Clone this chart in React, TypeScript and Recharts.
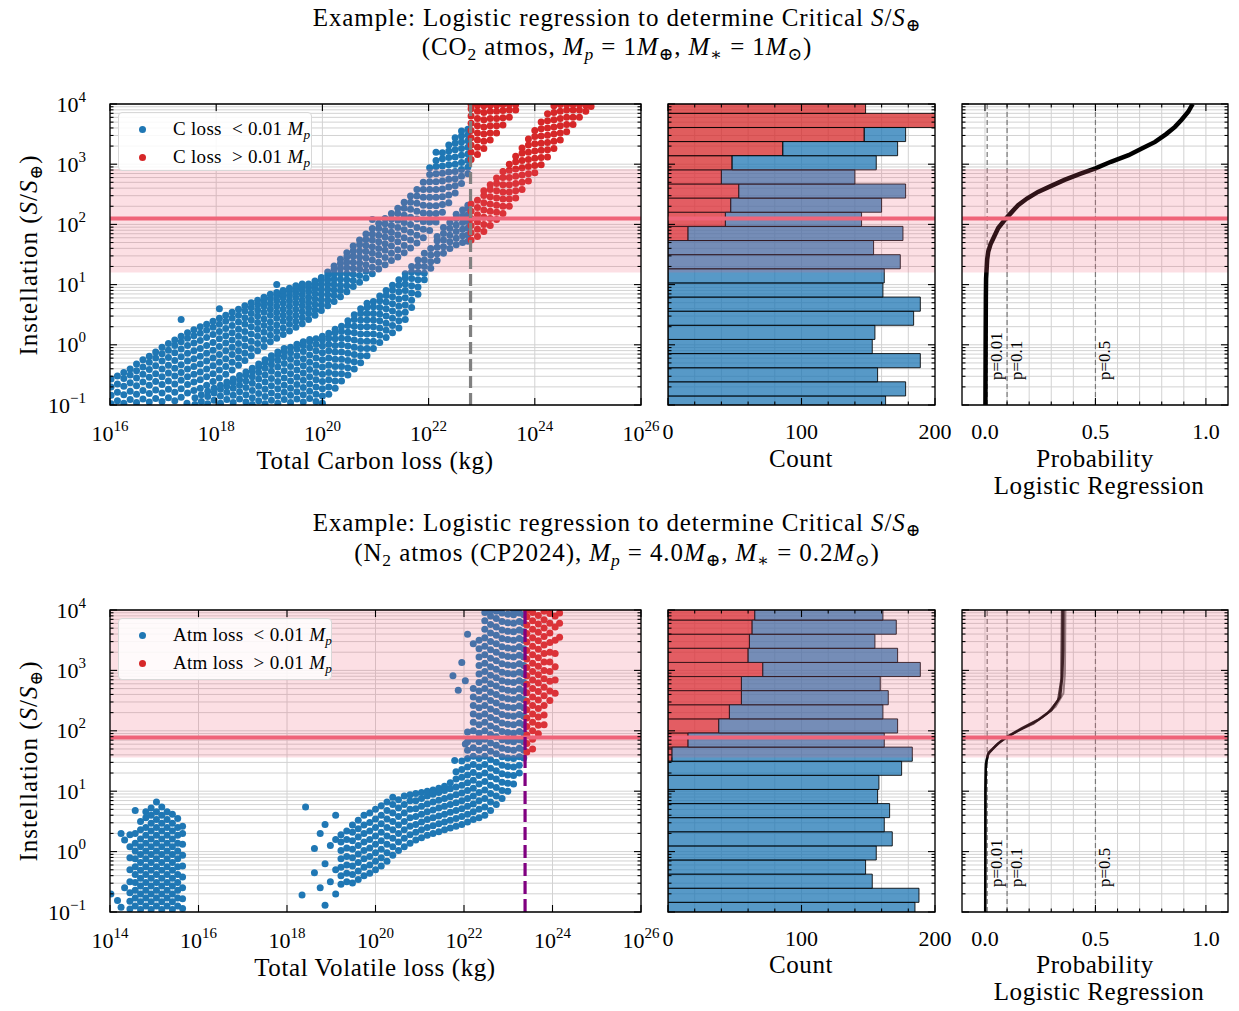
import React from 'react';
import { ScatterChart, Scatter, XAxis, YAxis, CartesianGrid, ReferenceArea, ReferenceLine } from 'recharts';

const FONT = '"Liberation Serif", "DejaVu Serif", serif';
const BLUE = '#1f77b4';
const RED = '#d62728';
const BAND = '#ef5f78';
const CRIT = '#ef6479';
const GRID = '#d2d2d2';

// y axis = log10 instellation
const logDecades = [-1, 0, 1, 2, 3, 4];
const minorSteps = [2, 3, 4, 5, 6, 7, 8, 9];
const yTicks = logDecades.flatMap((d, i) =>
  i === logDecades.length - 1 ? [d] : [d, ...minorSteps.map((m) => d + Math.log10(m))]
);

const topLossTicks = [16, 18, 20, 22, 24, 26];
const botLossTicks = [14, 16, 18, 20, 22, 24, 26];
const countTicks = [0, 20, 40, 60, 80, 100, 120, 140, 160, 180, 200];
const countMajor = [0, 100, 200];
const probTicks = [0, 0.1, 0.2, 0.3, 0.4, 0.5, 0.6, 0.7, 0.8, 0.9, 1.0];
const probMajor = [0, 0.5, 1.0];
const pLines = [0.01, 0.1, 0.5];

// scatter: [log10 loss, [log10 S ...]]
type Slice = [number, number[]];

const topBlueA: Slice[] = [
  [16.02, [-0.98, -0.84, -0.7, -0.57]],
  [16.14, [-0.93, -0.79, -0.65, -0.52]],
  [16.26, [-0.97, -0.83, -0.69, -0.56, -0.46]],
  [16.38, [-0.91, -0.77, -0.63, -0.5, -0.4]],
  [16.5, [-0.96, -0.82, -0.68, -0.55, -0.43, -0.32]],
  [16.62, [-0.9, -0.76, -0.62, -0.49, -0.37, -0.25]],
  [16.74, [-0.95, -0.81, -0.67, -0.54, -0.41, -0.29, -0.19]],
  [16.86, [-0.89, -0.75, -0.61, -0.48, -0.35, -0.22, -0.12]],
  [16.98, [-0.94, -0.8, -0.66, -0.53, -0.4, -0.27, -0.15, -0.04]],
  [17.1, [-0.88, -0.74, -0.6, -0.47, -0.34, -0.21, -0.09, 0.02]],
  [17.22, [-0.93, -0.79, -0.65, -0.52, -0.39, -0.26, -0.13, -0.01, 0.08]],
  [17.34, [-0.87, -0.73, -0.59, -0.46, -0.33, -0.2, -0.07, 0.05, 0.14, 0.42]],
  [17.46, [-0.8, -0.66, -0.53, -0.4, -0.27, -0.14, -0.01, 0.11, 0.2]],
  [17.58, [-0.76, -0.62, -0.49, -0.36, -0.23, -0.1, 0.03, 0.15, 0.25]],
  [17.7, [-0.72, -0.58, -0.45, -0.32, -0.19, -0.06, 0.07, 0.19, 0.3]],
  [17.82, [-0.67, -0.53, -0.4, -0.27, -0.14, -0.01, 0.12, 0.24, 0.34]],
  [17.94, [-0.61, -0.48, -0.35, -0.22, -0.09, 0.04, 0.17, 0.29, 0.39]],
  [18.06, [-0.55, -0.42, -0.29, -0.16, -0.03, 0.1, 0.22, 0.34, 0.44, 0.6]],
  [18.18, [-0.49, -0.36, -0.23, -0.1, 0.03, 0.15, 0.27, 0.39, 0.49]],
  [18.3, [-0.42, -0.29, -0.16, -0.04, 0.08, 0.2, 0.32, 0.44, 0.54]],
  [18.42, [-0.34, -0.22, -0.1, 0.02, 0.14, 0.26, 0.38, 0.49, 0.59]],
  [18.54, [-0.26, -0.14, -0.02, 0.1, 0.22, 0.34, 0.45, 0.56, 0.65]],
  [18.66, [-0.18, -0.06, 0.06, 0.18, 0.3, 0.41, 0.52, 0.62, 0.7]],
  [18.78, [-0.1, 0.02, 0.14, 0.26, 0.37, 0.48, 0.58, 0.67, 0.74]],
  [18.9, [-0.03, 0.09, 0.21, 0.32, 0.43, 0.54, 0.64, 0.72, 0.79]],
  [19.02, [0.05, 0.16, 0.27, 0.38, 0.49, 0.59, 0.68, 0.77, 0.84]],
  [19.14, [0.11, 0.22, 0.33, 0.44, 0.54, 0.64, 0.73, 0.81, 0.87, 1.0]],
  [19.26, [0.17, 0.28, 0.39, 0.49, 0.59, 0.69, 0.78, 0.85, 0.9]],
  [19.38, [0.23, 0.34, 0.44, 0.54, 0.64, 0.73, 0.82, 0.89, 0.94]],
  [19.5, [0.29, 0.39, 0.49, 0.59, 0.69, 0.78, 0.86, 0.93, 0.98]],
  [19.62, [0.35, 0.45, 0.55, 0.65, 0.74, 0.83, 0.91, 0.97, 1.01]],
  [19.74, [0.42, 0.52, 0.61, 0.7, 0.79, 0.88, 0.95, 1.01]],
  [19.86, [0.49, 0.58, 0.67, 0.76, 0.85, 0.93, 1.0, 1.06]],
  [19.98, [0.57, 0.66, 0.75, 0.84, 0.92, 1.0, 1.07, 1.12]],
  [20.1, [0.65, 0.74, 0.83, 0.92, 1.0, 1.08, 1.15, 1.21]],
  [20.22, [0.72, 0.82, 0.91, 1.0, 1.09, 1.17, 1.25, 1.31]],
  [20.34, [0.8, 0.9, 0.99, 1.09, 1.18, 1.27, 1.35, 1.42]],
  [20.46, [0.88, 0.98, 1.08, 1.18, 1.28, 1.37, 1.46, 1.53]],
  [20.58, [0.97, 1.07, 1.17, 1.27, 1.37, 1.47, 1.56, 1.64]],
  [20.7, [1.04, 1.15, 1.26, 1.36, 1.46, 1.56, 1.66, 1.74]],
  [20.82, [1.11, 1.22, 1.33, 1.44, 1.55, 1.65, 1.75, 1.84]],
  [20.94, [1.18, 1.29, 1.41, 1.52, 1.63, 1.74, 1.84, 1.93, 2.08]],
  [21.06, [1.26, 1.37, 1.49, 1.6, 1.71, 1.82, 1.93, 2.02]],
  [21.18, [1.33, 1.45, 1.57, 1.68, 1.79, 1.9, 2.01, 2.1]],
  [21.3, [1.4, 1.52, 1.64, 1.76, 1.87, 1.98, 2.09, 2.18]],
  [21.42, [1.46, 1.58, 1.71, 1.83, 1.95, 2.07, 2.18, 2.27]],
  [21.54, [1.53, 1.65, 1.78, 1.91, 2.03, 2.15, 2.27, 2.37]],
  [21.66, [1.61, 1.74, 1.87, 2.0, 2.12, 2.25, 2.37, 2.47]],
  [21.78, [1.69, 1.82, 1.95, 2.09, 2.22, 2.35, 2.47, 2.58]],
  [21.9, [1.78, 1.92, 2.05, 2.19, 2.32, 2.45, 2.58, 2.7]],
  [22.02, [1.9, 2.04, 2.18, 2.31, 2.45, 2.58, 2.71, 2.83, 2.94]],
  [22.14, [2.04, 2.18, 2.31, 2.45, 2.58, 2.71, 2.84, 2.96, 3.06, 3.2]],
  [22.26, [2.2, 2.33, 2.46, 2.59, 2.72, 2.85, 2.97, 3.09, 3.19]],
  [22.38, [2.36, 2.49, 2.62, 2.75, 2.87, 2.99, 3.11, 3.22, 3.32]],
  [22.5, [2.52, 2.64, 2.76, 2.88, 3.0, 3.12, 3.24, 3.35, 3.44]],
  [22.62, [2.68, 2.8, 2.91, 3.03, 3.15, 3.26, 3.37, 3.47, 3.55]],
  [22.74, [2.84, 2.95, 3.06, 3.17, 3.28, 3.39, 3.49, 3.58]],
];

const topBlueB: Slice[] = [
  [17.45, [-0.97]],
  [17.6, [-0.99, -0.88]],
  [17.72, [-0.94, -0.83]],
  [17.84, [-0.98, -0.86, -0.77]],
  [17.96, [-0.92, -0.8, -0.72]],
  [18.08, [-0.97, -0.85, -0.74, -0.67]],
  [18.2, [-0.91, -0.79, -0.69, -0.62]],
  [18.32, [-0.96, -0.84, -0.72, -0.63, -0.57]],
  [18.44, [-0.9, -0.78, -0.67, -0.58, -0.51]],
  [18.56, [-0.95, -0.83, -0.71, -0.6, -0.5, -0.45]],
  [18.68, [-0.99, -0.88, -0.76, -0.64, -0.53, -0.44, -0.39]],
  [18.8, [-0.93, -0.81, -0.69, -0.57, -0.46, -0.37, -0.32]],
  [18.92, [-0.98, -0.86, -0.74, -0.62, -0.5, -0.39, -0.3, -0.25]],
  [19.04, [-0.92, -0.8, -0.68, -0.56, -0.44, -0.33, -0.24, -0.18]],
  [19.16, [-0.97, -0.85, -0.73, -0.61, -0.49, -0.37, -0.26, -0.17, -0.12]],
  [19.28, [-0.91, -0.79, -0.67, -0.55, -0.43, -0.31, -0.2, -0.11, -0.06]],
  [19.4, [-0.96, -0.84, -0.72, -0.6, -0.48, -0.36, -0.24, -0.13, -0.04]],
  [19.52, [-0.9, -0.78, -0.66, -0.54, -0.42, -0.3, -0.18, -0.07, 0.01]],
  [19.64, [-0.95, -0.83, -0.71, -0.59, -0.47, -0.35, -0.23, -0.11, -0.01, 0.05]],
  [19.76, [-0.89, -0.77, -0.65, -0.53, -0.41, -0.29, -0.17, -0.05, 0.05, 0.09]],
  [19.88, [-0.94, -0.82, -0.7, -0.58, -0.46, -0.34, -0.22, -0.1, 0.01, 0.1]],
  [20.0, [-0.97, -0.85, -0.73, -0.61, -0.49, -0.37, -0.25, -0.13, -0.02, 0.08, 0.14]],
  [20.12, [-0.82, -0.7, -0.58, -0.46, -0.34, -0.22, -0.1, 0.01, 0.11, 0.19]],
  [20.24, [-0.72, -0.6, -0.48, -0.36, -0.24, -0.12, -0.01, 0.1, 0.2, 0.26]],
  [20.36, [-0.6, -0.48, -0.36, -0.24, -0.12, 0.0, 0.11, 0.22, 0.31]],
  [20.48, [-0.5, -0.38, -0.26, -0.14, -0.02, 0.1, 0.21, 0.32, 0.4]],
  [20.6, [-0.4, -0.28, -0.16, -0.04, 0.08, 0.2, 0.31, 0.42, 0.5]],
  [20.72, [-0.3, -0.18, -0.06, 0.06, 0.18, 0.3, 0.41, 0.52, 0.6]],
  [20.84, [-0.18, -0.06, 0.06, 0.18, 0.3, 0.41, 0.52, 0.62, 0.69]],
  [20.96, [-0.06, 0.06, 0.18, 0.3, 0.41, 0.52, 0.63, 0.72]],
  [21.08, [0.04, 0.16, 0.28, 0.4, 0.51, 0.62, 0.73, 0.81]],
  [21.2, [0.12, 0.24, 0.36, 0.48, 0.6, 0.71, 0.82, 0.9]],
  [21.32, [0.2, 0.32, 0.44, 0.56, 0.68, 0.8, 0.91, 0.99]],
  [21.44, [0.28, 0.4, 0.52, 0.64, 0.76, 0.88, 0.99, 1.08]],
  [21.56, [0.42, 0.54, 0.66, 0.78, 0.9, 1.01, 1.11, 1.18]],
  [21.68, [0.62, 0.74, 0.86, 0.98, 1.1, 1.21, 1.3]],
  [21.8, [0.84, 0.96, 1.08, 1.2, 1.31, 1.41]],
  [21.92, [1.08, 1.19, 1.3, 1.41, 1.52]],
  [22.04, [1.27, 1.38, 1.49, 1.6]],
  [22.16, [1.4, 1.51, 1.62, 1.73, 1.8]],
  [22.28, [1.52, 1.63, 1.74, 1.85, 1.95]],
  [22.4, [1.6, 1.71, 1.82, 1.93, 2.03]],
  [22.52, [1.66, 1.77, 1.88, 1.99, 2.1, 2.17]],
  [22.64, [1.7, 1.81, 1.92, 2.03, 2.14, 2.24]],
  [22.74, [1.72, 1.83, 1.94, 2.05, 2.16, 2.27, 2.32]],
];

const topRedA: Slice[] = [
  [22.8, [3.08, 3.2, 3.32, 3.44, 3.56, 3.68, 3.8, 3.92, 3.99]],
  [22.92, [3.16, 3.28, 3.4, 3.52, 3.64, 3.76, 3.88, 3.98]],
  [23.04, [3.26, 3.38, 3.5, 3.62, 3.74, 3.86, 3.97]],
  [23.16, [3.4, 3.52, 3.64, 3.76, 3.88, 3.98]],
  [23.28, [3.52, 3.64, 3.76, 3.88, 3.98]],
  [23.4, [3.65, 3.77, 3.89, 3.99]],
  [23.52, [3.78, 3.9, 3.99]],
  [23.64, [3.9, 3.99]],
];

const topRedB: Slice[] = [
  [22.8, [1.74, 1.86, 1.98, 2.1, 2.22, 2.34]],
  [22.92, [1.8, 1.92, 2.04, 2.16, 2.28, 2.4]],
  [23.04, [1.88, 2.0, 2.12, 2.24, 2.36, 2.48, 2.56]],
  [23.16, [1.98, 2.1, 2.22, 2.34, 2.46, 2.58, 2.66]],
  [23.28, [2.08, 2.2, 2.32, 2.44, 2.56, 2.68, 2.77]],
  [23.4, [2.18, 2.3, 2.42, 2.54, 2.66, 2.78, 2.88]],
  [23.52, [2.3, 2.42, 2.54, 2.66, 2.78, 2.9, 3.0]],
  [23.64, [2.44, 2.56, 2.68, 2.8, 2.92, 3.04, 3.13]],
  [23.76, [2.58, 2.7, 2.82, 2.94, 3.06, 3.18, 3.27]],
  [23.88, [2.72, 2.84, 2.96, 3.08, 3.2, 3.32, 3.42]],
  [24.0, [2.86, 2.98, 3.1, 3.22, 3.34, 3.46, 3.56]],
  [24.12, [2.99, 3.11, 3.23, 3.35, 3.47, 3.59, 3.7]],
  [24.24, [3.12, 3.24, 3.36, 3.48, 3.6, 3.72, 3.84]],
  [24.36, [3.26, 3.38, 3.5, 3.62, 3.74, 3.86, 3.97]],
  [24.48, [3.4, 3.52, 3.64, 3.76, 3.88, 3.99]],
  [24.6, [3.54, 3.66, 3.78, 3.9, 3.99]],
  [24.72, [3.66, 3.78, 3.9, 3.99]],
  [24.84, [3.78, 3.9, 3.99]],
  [24.96, [3.88, 3.98]],
  [25.06, [3.96]],
];

const botBlueCluster: Slice[] = [
  [14.02, [-0.7]],
  [14.17, [-0.81]],
  [14.25, [-0.92, 0.3]],
  [14.33, [-0.6, 0.19]],
  [14.45, [-0.95, -0.82, -0.68, -0.5, -0.3, -0.1, 0.08, 0.28]],
  [14.57, [-0.9, -0.77, -0.64, -0.51, -0.38, -0.25, -0.12, 0.01, 0.14, 0.3, 0.68]],
  [14.69, [-0.96, -0.83, -0.7, -0.57, -0.44, -0.31, -0.18, -0.05, 0.08, 0.21, 0.36, 0.5]],
  [14.81, [-0.9, -0.77, -0.64, -0.51, -0.38, -0.25, -0.12, 0.01, 0.14, 0.27, 0.4, 0.56, 0.66]],
  [14.93, [-0.96, -0.83, -0.7, -0.57, -0.44, -0.31, -0.18, -0.05, 0.08, 0.21, 0.34, 0.47, 0.6, 0.72]],
  [15.05, [-0.9, -0.77, -0.64, -0.51, -0.38, -0.25, -0.12, 0.01, 0.14, 0.27, 0.4, 0.53, 0.66, 0.82]],
  [15.17, [-0.96, -0.83, -0.7, -0.57, -0.44, -0.31, -0.18, -0.05, 0.08, 0.21, 0.34, 0.47, 0.6, 0.74]],
  [15.29, [-0.9, -0.77, -0.64, -0.51, -0.38, -0.25, -0.12, 0.01, 0.14, 0.27, 0.4, 0.53, 0.66]],
  [15.41, [-0.96, -0.83, -0.7, -0.57, -0.44, -0.31, -0.18, -0.05, 0.08, 0.21, 0.34, 0.47, 0.62]],
  [15.53, [-0.9, -0.77, -0.64, -0.51, -0.38, -0.25, -0.12, 0.01, 0.14, 0.27, 0.4, 0.55]],
  [15.64, [-0.94, -0.78, -0.6, -0.42, -0.24, -0.06, 0.12, 0.3, 0.42]],
];

const botBlueBand: Slice[] = [
  [18.34, [-0.72]],
  [18.42, [0.74]],
  [18.62, [-0.35, 0.05]],
  [18.75, [-0.6, 0.3]],
  [18.86, [-0.89, -0.2, 0.45]],
  [18.98, [-0.5, 0.1]],
  [19.1, [-0.7, -0.3, 0.2, 0.6]],
  [19.22, [-0.54, -0.4, -0.26, -0.12, 0.02, 0.16, 0.28]],
  [19.35, [-0.5, -0.36, -0.22, -0.08, 0.06, 0.2, 0.34]],
  [19.48, [-0.52, -0.38, -0.24, -0.1, 0.04, 0.18, 0.32, 0.44]],
  [19.61, [-0.46, -0.32, -0.18, -0.04, 0.1, 0.24, 0.38, 0.52]],
  [19.74, [-0.4, -0.26, -0.12, 0.02, 0.16, 0.3, 0.44, 0.6]],
  [19.87, [-0.36, -0.22, -0.08, 0.06, 0.2, 0.34, 0.48, 0.64]],
  [20.0, [-0.3, -0.16, -0.02, 0.12, 0.26, 0.4, 0.54, 0.7]],
  [20.13, [-0.24, -0.1, 0.04, 0.18, 0.32, 0.46, 0.6, 0.76]],
  [20.26, [-0.16, -0.02, 0.12, 0.26, 0.4, 0.54, 0.68, 0.82]],
  [20.39, [-0.06, 0.08, 0.22, 0.36, 0.5, 0.64, 0.78, 0.9]],
  [20.52, [0.02, 0.16, 0.3, 0.44, 0.58, 0.72, 0.86]],
  [20.65, [0.08, 0.22, 0.36, 0.5, 0.64, 0.78, 0.92]],
  [20.78, [0.14, 0.28, 0.42, 0.56, 0.7, 0.84, 0.94]],
  [20.91, [0.19, 0.32, 0.45, 0.58, 0.71, 0.84, 0.96]],
  [21.04, [0.23, 0.36, 0.49, 0.62, 0.75, 0.88, 0.98]],
  [21.17, [0.27, 0.4, 0.53, 0.66, 0.79, 0.92, 1.0]],
  [21.3, [0.3, 0.43, 0.56, 0.69, 0.82, 0.95, 1.02]],
  [21.43, [0.33, 0.46, 0.59, 0.72, 0.85, 0.98, 1.05]],
  [21.56, [0.36, 0.49, 0.62, 0.75, 0.88, 1.01, 1.08]],
  [21.69, [0.39, 0.52, 0.65, 0.78, 0.91, 1.04, 1.14]],
  [21.75, [2.91]],
  [21.79, [1.51]],
  [21.82, [0.42, 0.55, 0.68, 0.81, 0.94, 1.07, 1.2, 1.32]],
  [21.87, [2.67]],
  [21.95, [0.45, 0.58, 0.71, 0.84, 0.97, 1.1, 1.23, 1.36, 1.5, 3.13]],
  [22.03, [1.78, 2.83]],
  [22.08, [0.49, 0.62, 0.75, 0.88, 1.01, 1.14, 1.27, 1.4, 1.54, 1.68, 1.82, 1.98, 3.6]],
  [22.21, [0.53, 0.66, 0.79, 0.92, 1.05, 1.18, 1.31, 1.44, 1.58, 1.72, 1.86, 2.0, 2.14, 2.28, 2.42, 2.56, 2.7, 3.44]],
  [22.34, [0.56, 0.7, 0.84, 0.98, 1.12, 1.26, 1.4, 1.54, 1.68, 1.82, 1.96, 2.1, 2.24, 2.38, 2.52, 2.66, 2.8, 2.94, 3.08, 3.22, 3.36, 3.5]],
  [22.47, [0.6, 0.74, 0.88, 1.02, 1.16, 1.3, 1.44, 1.58, 1.72, 1.86, 2.0, 2.14, 2.28, 2.42, 2.56, 2.7, 2.84, 2.98, 3.12, 3.26, 3.4, 3.54, 3.68, 3.82, 3.96]],
  [22.6, [0.68, 0.82, 0.96, 1.1, 1.24, 1.38, 1.52, 1.66, 1.8, 1.94, 2.08, 2.22, 2.36, 2.5, 2.64, 2.78, 2.92, 3.06, 3.2, 3.34, 3.48, 3.62, 3.76, 3.9, 3.99]],
  [22.73, [0.78, 0.92, 1.06, 1.2, 1.34, 1.48, 1.62, 1.76, 1.9, 2.04, 2.18, 2.32, 2.46, 2.6, 2.74, 2.88, 3.02, 3.16, 3.3, 3.44, 3.58, 3.72, 3.86, 3.98]],
  [22.86, [0.88, 1.01, 1.15, 1.29, 1.43, 1.57, 1.71, 1.85, 1.99, 2.13, 2.27, 2.41, 2.55, 2.69, 2.83, 2.97, 3.11, 3.25, 3.39, 3.53, 3.67, 3.81, 3.95]],
  [22.99, [1.0, 1.13, 1.27, 1.41, 1.55, 1.69, 1.83, 1.97, 2.11, 2.25, 2.39, 2.53, 2.67, 2.81, 2.95, 3.09, 3.23, 3.37, 3.51, 3.65, 3.79, 3.93]],
  [23.12, [1.12, 1.26, 1.4, 1.54, 1.68, 1.82, 1.96, 2.1, 2.24, 2.38, 2.52, 2.66, 2.8, 2.94, 3.08, 3.22, 3.36, 3.5, 3.64, 3.78, 3.92, 3.99]],
  [23.25, [1.3, 1.43, 1.57, 1.71, 1.85, 1.99, 2.13, 2.27, 2.41, 2.55, 2.69, 2.83, 2.97, 3.11, 3.25, 3.39, 3.53, 3.67, 3.81, 3.95]],
  [23.35, [1.55, 1.68, 1.82, 1.96, 2.1, 2.24, 2.38, 2.52, 2.66, 2.8, 2.94, 3.08, 3.22, 3.36, 3.5, 3.64, 3.78, 3.92]],
];

const botRed: Slice[] = [
  [23.42, [1.65, 1.79, 1.93, 2.07, 2.21, 2.35, 2.49, 2.63, 2.77, 2.91, 3.05, 3.19, 3.33, 3.47, 3.61, 3.75, 3.89, 3.99]],
  [23.55, [1.7, 1.86, 2.0, 2.14, 2.28, 2.42, 2.56, 2.7, 2.84, 2.98, 3.12, 3.26, 3.4, 3.54, 3.68, 3.82, 3.96]],
  [23.68, [1.95, 2.09, 2.23, 2.37, 2.51, 2.65, 2.79, 2.93, 3.07, 3.21, 3.35, 3.49, 3.63, 3.77, 3.91]],
  [23.81, [2.1, 2.26, 2.42, 2.58, 2.72, 2.86, 3.0, 3.14, 3.28, 3.42, 3.56, 3.7, 3.84, 3.98]],
  [23.94, [2.5, 2.66, 2.82, 2.98, 3.14, 3.3, 3.46, 3.62, 3.78, 3.94]],
  [24.06, [2.62, 2.84, 3.06, 3.28, 3.5, 3.72, 3.9]],
  [24.16, [3.55, 3.78, 3.95]],
];

// histograms (bins bottom -> top, edges in log10 S)
const topEdges = [-1.085, -0.85, -0.615, -0.381, -0.146, 0.089, 0.324, 0.558, 0.793, 1.028, 1.263, 1.497,
  1.732, 1.967, 2.202, 2.437, 2.671, 2.906, 3.141, 3.376, 3.61, 3.845, 4.08];
const topRedCounts = [0, 0, 0, 0, 0, 0, 0, 0, 0, 0, 0, 0, 15, 43, 47, 53, 40, 48, 86, 147, 204, 148];
const topBlueCounts = [163, 178, 157, 189, 153, 155, 184, 189, 161, 162, 174, 154, 161, 102, 113, 125, 100, 108, 86, 31, 0, 0];

const botEdges = [-1.074, -0.84, -0.607, -0.373, -0.139, 0.094, 0.328, 0.562, 0.795, 1.029, 1.263, 1.496,
  1.73, 1.964, 2.197, 2.431, 2.665, 2.898, 3.132, 3.366, 3.599, 3.833, 4.067];
const botRedCounts = [0, 0, 0, 0, 0, 0, 0, 0, 0, 0, 0, 3, 15, 38, 46, 55, 55, 71, 60, 61, 63, 65];
const botBlueCounts = [185, 188, 153, 148, 156, 168, 162, 166, 157, 158, 175, 180, 147, 134, 115, 110, 104, 118, 112, 94, 108, 96];

// logistic regression curves: probability vs log10 S
const topCurve = [
  { x: 0.002, y: -1 }, { x: 0.003, y: 0.0 }, { x: 0.004, y: 0.8 }, { x: 0.005, y: 1.1 }, { x: 0.01, y: 1.42 },
  { x: 0.015, y: 1.55 }, { x: 0.025, y: 1.67 }, { x: 0.038, y: 1.77 }, { x: 0.06, y: 1.94 }, { x: 0.095, y: 2.1 },
  { x: 0.12, y: 2.2 }, { x: 0.15, y: 2.32 }, { x: 0.19, y: 2.43 }, { x: 0.24, y: 2.54 }, { x: 0.3, y: 2.64 },
  { x: 0.36, y: 2.74 }, { x: 0.43, y: 2.84 }, { x: 0.5, y: 2.93 }, { x: 0.57, y: 3.04 }, { x: 0.65, y: 3.15 },
  { x: 0.71, y: 3.26 }, { x: 0.77, y: 3.37 }, { x: 0.82, y: 3.5 }, { x: 0.86, y: 3.62 }, { x: 0.89, y: 3.74 },
  { x: 0.92, y: 3.87 }, { x: 0.94, y: 4.0 },
];
const botCurveA = [
  { x: 0.001, y: -1 }, { x: 0.002, y: 1.0 }, { x: 0.004, y: 1.45 }, { x: 0.015, y: 1.63 }, { x: 0.06, y: 1.79 },
  { x: 0.1, y: 1.9 }, { x: 0.166, y: 2.04 }, { x: 0.24, y: 2.18 }, { x: 0.3, y: 2.34 }, { x: 0.34, y: 2.56 },
  { x: 0.35, y: 2.9 }, { x: 0.354, y: 3.34 }, { x: 0.355, y: 4.0 },
];
const botCurveB = [
  { x: 0.001, y: -1 }, { x: 0.002, y: 1.0 }, { x: 0.005, y: 1.5 }, { x: 0.02, y: 1.66 }, { x: 0.07, y: 1.82 },
  { x: 0.11, y: 1.91 }, { x: 0.18, y: 2.06 }, { x: 0.26, y: 2.22 }, { x: 0.32, y: 2.4 }, { x: 0.355, y: 2.62 },
  { x: 0.362, y: 2.95 }, { x: 0.364, y: 4.0 },
];
const botCurveC = [
  { x: 0.001, y: -1 }, { x: 0.002, y: 0.95 }, { x: 0.004, y: 1.4 }, { x: 0.013, y: 1.6 }, { x: 0.05, y: 1.76 },
  { x: 0.09, y: 1.88 }, { x: 0.15, y: 2.0 }, { x: 0.22, y: 2.12 }, { x: 0.28, y: 2.28 }, { x: 0.33, y: 2.5 },
  { x: 0.345, y: 2.85 }, { x: 0.348, y: 4.0 },
];

// critical instellation band + value (log10 S), and critical loss (log10 kg)
const topBand = [1.2, 2.92];
const topCrit = 2.1;
const topCut = 22.79;
const botBand = [1.56, 4.0];
const botCrit = 1.89;
const botCut = 23.38;

const toPts = (s: Slice[]) => s.flatMap(([x, ys]) => ys.map((y) => ({ x, y })));

type Rect = { x: number; y: number; w: number; h: number };
const ML = 80, MR = 30, MT = 24, MB = 44;

const sup = (v: number) => (v < 0 ? '\u2212' + -v : String(v));

const xTick = (r: Rect, majors: number[], kind: 'pow' | 'int' | 'dec') => (p: any) => {
  const v = p.payload.value;
  const x = p.x;
  const top = MT, bot = MT + r.h;
  const major = majors.includes(v);
  const len = major ? 7 : 3.5;
  return (
    <g>
      <line x1={x} x2={x} y1={bot} y2={bot - len} stroke="#000" strokeWidth={1.1} />
      <line x1={x} x2={x} y1={top} y2={top + len} stroke="#000" strokeWidth={1.1} />
      {major && kind === 'pow' && (
        <text x={x} y={bot + 36} textAnchor="middle" fontFamily={FONT} fontSize={22} fill="#000">
          10<tspan dy={-10} fontSize={15}>{sup(v)}</tspan>
        </text>
      )}
      {major && kind !== 'pow' && (
        <text x={x} y={bot + 34} textAnchor="middle" fontFamily={FONT} fontSize={22} fill="#000">
          {kind === 'dec' ? v.toFixed(1) : String(v)}
        </text>
      )}
    </g>
  );
};

const yTick = (r: Rect, labels: boolean) => (p: any) => {
  const v = p.payload.value;
  const y = p.y;
  const L = ML, R = ML + r.w;
  const major = Number.isInteger(v);
  const len = major ? 7 : 3.5;
  return (
    <g>
      <line x1={L} x2={L + len} y1={y} y2={y} stroke="#000" strokeWidth={1.1} />
      <line x1={R} x2={R - len} y1={y} y2={y} stroke="#000" strokeWidth={1.1} />
      {labels && major && (
        <text x={L - 24} y={y + 7.5} textAnchor="end" fontFamily={FONT} fontSize={22} fill="#000">
          10<tspan dy={-10} fontSize={15}>{sup(v)}</tspan>
        </text>
      )}
    </g>
  );
};

const dot = (color: string) => (p: any) => <circle cx={p.cx} cy={p.cy} r={3.5} fill={color} />;
const noDot = () => <g />;

const pLabel = (text: string) => (props: any) => {
  const vb = props.viewBox || {};
  const x = vb.x + 15;
  const y = vb.y + vb.height - 25;
  return (
    <text x={x} y={y} transform={`rotate(-90 ${x} ${y})`} fontFamily={FONT} fontSize={17} fill="#000">
      {text}
    </text>
  );
};

function Frame({ r, children }: { r: Rect; children: React.ReactNode }) {
  return <div style={{ position: 'absolute', left: r.x - ML, top: r.y - MT }}>{children}</div>;
}

// axes take the left / bottom space, so the plot area lands on r exactly
function chartBox(r: Rect) {
  return {
    width: r.w + ML + MR,
    height: r.h + MT + MB,
    margin: { top: MT, right: MR, bottom: 0, left: 0 },
  };
}

const axisX = (r: Rect, domain: number[], ticks: number[], majors: number[], kind: 'pow' | 'int' | 'dec') => (
  <XAxis type="number" dataKey="x" domain={domain} ticks={ticks} interval={0} tick={xTick(r, majors, kind)}
    tickLine={false} axisLine={false} tickSize={0} tickMargin={0} height={MB} allowDataOverflow />
);
const axisY = (r: Rect, labels: boolean) => (
  <YAxis type="number" dataKey="y" domain={[-1, 4]} ticks={yTicks} interval={0} tick={yTick(r, labels)}
    tickLine={false} axisLine={false} tickSize={0} tickMargin={0} width={ML} allowDataOverflow />
);

function ScatterPanel(props: {
  r: Rect; xDomain: number[]; xTicks: number[]; blue: Slice[][]; red: Slice[][];
  band: number[]; crit: number; cut: number; cutColor: string; cutDash: string;
}) {
  const { r, xDomain, xTicks, blue, red, band, crit, cut, cutColor, cutDash } = props;
  return (
    <Frame r={r}>
      <ScatterChart {...chartBox(r)}>
        <CartesianGrid stroke={GRID} strokeWidth={1} />
        {axisX(r, xDomain, xTicks, xTicks, 'pow')}
        {axisY(r, true)}
        {blue.map((s, i) => (
          <Scatter key={'b' + i} data={toPts(s)} shape={dot(BLUE)} isAnimationActive={false} />
        ))}
        {red.map((s, i) => (
          <Scatter key={'r' + i} data={toPts(s)} shape={dot(RED)} isAnimationActive={false} />
        ))}
        <ReferenceArea y1={band[0]} y2={band[1]} fill={BAND} fillOpacity={0.2} stroke="none" ifOverflow="hidden" zIndex={700} />
        <ReferenceLine y={crit} stroke={CRIT} strokeWidth={4} zIndex={710} />
        <ReferenceLine x={cut} stroke={cutColor} strokeWidth={3.2} strokeDasharray={cutDash} zIndex={720} />
        <ReferenceArea x1={xDomain[0]} x2={xDomain[1]} y1={-1} y2={4} fill="none" stroke="#000" strokeWidth={1.3} zIndex={800} />
      </ScatterChart>
    </Frame>
  );
}

function HistPanel(props: { r: Rect; edges: number[]; red: number[]; blue: number[]; band: number[]; crit: number }) {
  const { r, edges, red, blue, band, crit } = props;
  return (
    <Frame r={r}>
      <ScatterChart {...chartBox(r)}>
        <CartesianGrid stroke={GRID} strokeWidth={1} />
        {axisX(r, [0, 200], countTicks, countMajor, 'int')}
        {axisY(r, false)}
        {red.map((c, i) =>
          c > 0 ? (
            <ReferenceArea key={'hr' + i} x1={0} x2={c} y1={edges[i]} y2={edges[i + 1]} fill={RED} fillOpacity={0.75}
              stroke="#000" strokeOpacity={0.85} strokeWidth={1} ifOverflow="hidden" zIndex={300} />
          ) : null
        )}
        {blue.map((c, i) =>
          c > 0 ? (
            <ReferenceArea key={'hb' + i} x1={red[i]} x2={red[i] + c} y1={edges[i]} y2={edges[i + 1]} fill={BLUE}
              fillOpacity={0.75} stroke="#000" strokeOpacity={0.85} strokeWidth={1} ifOverflow="hidden" zIndex={300} />
          ) : null
        )}
        <ReferenceArea y1={band[0]} y2={band[1]} fill={BAND} fillOpacity={0.2} stroke="none" ifOverflow="hidden" zIndex={700} />
        <ReferenceLine y={crit} stroke={CRIT} strokeWidth={4} zIndex={710} />
        <ReferenceArea x1={0} x2={200} y1={-1} y2={4} fill="none" stroke="#000" strokeWidth={1.3} zIndex={800} />
      </ScatterChart>
    </Frame>
  );
}

function LogitPanel(props: { r: Rect; curves: { data: { x: number; y: number }[]; color: string; width: number; opacity: number }[]; band: number[]; crit: number }) {
  const { r, curves, band, crit } = props;
  return (
    <Frame r={r}>
      <ScatterChart {...chartBox(r)}>
        <CartesianGrid stroke={GRID} strokeWidth={1} />
        {axisX(r, [-0.104, 1.1], probTicks, probMajor, 'dec')}
        {axisY(r, false)}
        {pLines.map((p) => (
          <ReferenceLine key={p} x={p} stroke="#7a7a7a" strokeWidth={1.2} strokeDasharray="5 3" label={pLabel('p=' + p)} zIndex={400} />
        ))}
        {curves.map((c, i) => (
          <Scatter key={i} data={c.data} shape={noDot} line={{ stroke: c.color, strokeWidth: c.width, strokeOpacity: c.opacity }}
            isAnimationActive={false} />
        ))}
        <ReferenceArea y1={band[0]} y2={band[1]} fill={BAND} fillOpacity={0.2} stroke="none" ifOverflow="hidden" zIndex={700} />
        <ReferenceLine y={crit} stroke={CRIT} strokeWidth={4} zIndex={710} />
        <ReferenceArea x1={-0.104} x2={1.1} y1={-1} y2={4} fill="none" stroke="#000" strokeWidth={1.3} zIndex={800} />
      </ScatterChart>
    </Frame>
  );
}

const Sub = ({ children }: { children: React.ReactNode }) => (
  <span style={{ fontSize: '0.7em', position: 'relative', top: '0.3em' }}>{children}</span>
);

function Txt({ cx, cy, size = 25, ls = 0.6, rotate = false, children }: { cx: number; cy: number; size?: number; ls?: number; rotate?: boolean; children: React.ReactNode }) {
  return (
    <div
      style={{
        position: 'absolute', left: cx, top: cy, whiteSpace: 'nowrap', fontFamily: FONT, fontSize: size,
        letterSpacing: ls, lineHeight: 1, color: '#000',
        transform: `translate(-50%, -50%)${rotate ? ' rotate(-90deg)' : ''}`,
      }}
    >
      {children}
    </div>
  );
}

function LegendBox({ x, y, w, h, items }: { x: number; y: number; w: number; h: number; items: { color: string; text: React.ReactNode }[] }) {
  return (
    <div style={{ position: 'absolute', left: x, top: y, width: w, height: h, background: 'rgba(255,255,255,0.85)',
      border: '1px solid #d8d8d8', borderRadius: 4, boxSizing: 'border-box' }}>
      {items.map((it, i) => (
        <div key={i} style={{ position: 'absolute', left: 0, top: 5 + i * 28, height: 22 }}>
          <span style={{ position: 'absolute', left: 20, top: 8, width: 7, height: 7, borderRadius: '50%', background: it.color }} />
          <span style={{ position: 'absolute', left: 54, top: 0, whiteSpace: 'nowrap', fontFamily: FONT, fontSize: 19, lineHeight: '22px', letterSpacing: 0.3 }}>
            {it.text}
          </span>
        </div>
      ))}
    </div>
  );
}

const topScatter: Rect = { x: 110, y: 104, w: 531, h: 301 };
const topHist: Rect = { x: 668, y: 104, w: 267, h: 301 };
const topLogit: Rect = { x: 962, y: 104, w: 266, h: 301 };
const botScatter: Rect = { x: 110, y: 610, w: 531, h: 302 };
const botHist: Rect = { x: 668, y: 610, w: 267, h: 302 };
const botLogit: Rect = { x: 962, y: 610, w: 266, h: 302 };

const SS = (
  <>
    <i>S</i>/<i>S</i><Sub>⊕</Sub>
  </>
);

export default function App() {
  return (
    <div style={{ position: 'absolute', left: 0, top: 0, width: 1239, height: 1011, background: '#fff', overflow: 'hidden' }}>
      <ScatterPanel r={topScatter} xDomain={[16, 26]} xTicks={topLossTicks} blue={[topBlueA, topBlueB]} red={[topRedA, topRedB]}
        band={topBand} crit={topCrit} cut={topCut} cutColor="#808080" cutDash="12 5" />
      <HistPanel r={topHist} edges={topEdges} red={topRedCounts} blue={topBlueCounts} band={topBand} crit={topCrit} />
      <LogitPanel r={topLogit} band={topBand} crit={topCrit}
        curves={[{ data: topCurve, color: '#000', width: 4.5, opacity: 1 }]} />

      <ScatterPanel r={botScatter} xDomain={[14, 26]} xTicks={botLossTicks} blue={[botBlueCluster, botBlueBand]} red={[botRed]}
        band={botBand} crit={botCrit} cut={botCut} cutColor="#800080" cutDash="13 5" />
      <HistPanel r={botHist} edges={botEdges} red={botRedCounts} blue={botBlueCounts} band={botBand} crit={botCrit} />
      <LogitPanel r={botLogit} band={botBand} crit={botCrit}
        curves={[
          { data: botCurveB, color: '#555', width: 2, opacity: 0.7 },
          { data: botCurveC, color: '#000', width: 2, opacity: 0.8 },
          { data: botCurveA, color: '#000', width: 2.5, opacity: 0.9 },
        ]} />

      <LegendBox x={118} y={112} w={194} h={59} items={[
        { color: BLUE, text: <>C loss &nbsp;&lt; 0.01 <i>M</i><Sub><i>p</i></Sub></> },
        { color: RED, text: <>C loss &nbsp;&gt; 0.01 <i>M</i><Sub><i>p</i></Sub></> },
      ]} />
      <LegendBox x={118} y={618} w={214} h={62} items={[
        { color: BLUE, text: <>Atm loss &nbsp;&lt; 0.01 <i>M</i><Sub><i>p</i></Sub></> },
        { color: RED, text: <>Atm loss &nbsp;&gt; 0.01 <i>M</i><Sub><i>p</i></Sub></> },
      ]} />

      <Txt cx={617} cy={17} ls={0.9}>Example: Logistic regression to determine Critical {SS}</Txt>
      <Txt cx={617} cy={46} ls={0.9}>(CO<Sub>2</Sub> atmos, <i>M</i><Sub><i>p</i></Sub> = 1<i>M</i><Sub>⊕</Sub>, <i>M</i><Sub>∗</Sub> = 1<i>M</i><Sub>⊙</Sub>)</Txt>
      <Txt cx={617} cy={522} ls={0.9}>Example: Logistic regression to determine Critical {SS}</Txt>
      <Txt cx={617} cy={552} ls={0.9}>(N<Sub>2</Sub> atmos (CP2024), <i>M</i><Sub><i>p</i></Sub> = 4.0<i>M</i><Sub>⊕</Sub>, <i>M</i><Sub>∗</Sub> = 0.2<i>M</i><Sub>⊙</Sub>)</Txt>

      <Txt cx={28} cy={255} ls={1} rotate>Instellation ({SS})</Txt>
      <Txt cx={28} cy={761} ls={1} rotate>Instellation ({SS})</Txt>

      <Txt cx={375} cy={460}>Total Carbon loss (kg)</Txt>
      <Txt cx={801} cy={458}>Count</Txt>
      <Txt cx={1095} cy={458}>Probability</Txt>
      <Txt cx={1099} cy={485}>Logistic Regression</Txt>

      <Txt cx={375} cy={967}>Total Volatile loss (kg)</Txt>
      <Txt cx={801} cy={964}>Count</Txt>
      <Txt cx={1095} cy={964}>Probability</Txt>
      <Txt cx={1099} cy={991}>Logistic Regression</Txt>
    </div>
  );
}
